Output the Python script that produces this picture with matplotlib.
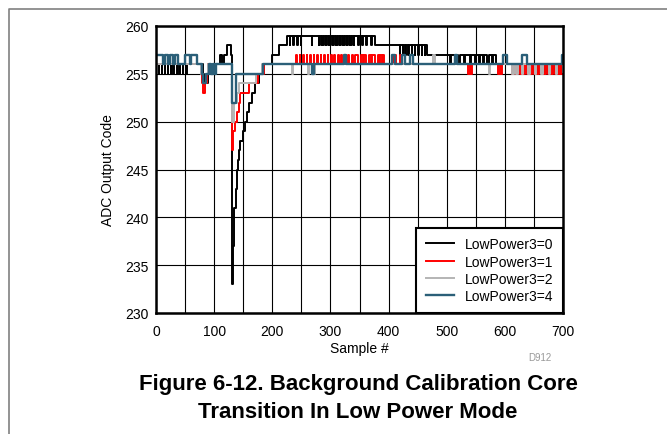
import matplotlib
matplotlib.use("Agg")
import matplotlib.pyplot as plt
from matplotlib.lines import Line2D

plt.rcParams['font.family'] = ['Liberation Sans', 'DejaVu Sans']

# ---- data: step breakpoints (sample #, ADC code held until next breakpoint) ----
lp0_x = [0, 5, 6, 10, 11, 15, 16, 20, 21, 25, 26, 30, 31, 36, 37, 41, 42, 46, 47, 52, 54,
         80, 83, 89, 91, 110, 114, 117, 122, 129,
         131, 132, 133, 134, 135, 137, 139, 141, 143, 145, 149, 153, 156, 160, 165, 170, 177, 186, 199, 212, 226,
         230, 231, 236, 237, 243, 244, 249, 250, 268, 269,
         280, 281, 284, 285, 288, 289, 292, 293, 296, 297, 300, 301, 304, 305, 308, 309, 312, 313,
         316, 317, 320, 321, 324, 325, 328, 329, 332, 333, 336, 337, 340, 341,
         348, 349, 355, 356, 362, 363, 370, 371, 377,
         419, 420, 424, 425, 429, 430, 434, 435, 440, 441, 445, 446, 451, 452, 457, 458, 462, 463, 466,
         505, 507, 520, 522, 530, 532, 540, 542, 548, 550, 555, 557, 562, 564, 570, 572, 578, 580, 584,
         648, 650, 655, 657, 662, 664, 668, 670, 675, 677, 682, 684, 689, 691, 696, 700]
lp0_y = [256, 255, 256, 255, 256, 255, 256, 255, 256, 255, 256, 255, 256, 255, 256, 255, 256, 255, 256, 255, 256,
         255, 254, 255, 256, 257, 256, 257, 258, 257,
         233, 235, 237, 239, 241, 243, 245, 246, 247, 248, 249, 250, 251, 252, 253, 254, 255, 256, 257, 258, 259,
         258, 259, 258, 259, 258, 259, 258, 259, 258, 259,
         258, 259, 258, 259, 258, 259, 258, 259, 258, 259, 258, 259, 258, 259, 258, 259, 258, 259,
         258, 259, 258, 259, 258, 259, 258, 259, 258, 259, 258, 259, 258, 259,
         258, 259, 258, 259, 258, 259, 258, 259, 258,
         257, 258, 257, 258, 257, 258, 257, 258, 257, 258, 257, 258, 257, 258, 257, 258, 257, 258, 257,
         256, 257, 256, 257, 256, 257, 256, 257, 256, 257, 256, 257, 256, 257, 256, 257, 256, 257, 256,
         255, 256, 255, 256, 255, 256, 255, 256, 255, 256, 255, 256, 255, 256, 255, 255]

lp1_x = [0, 77, 79, 81, 85, 87, 89, 130, 132, 133, 136, 140, 143, 145, 160, 176, 186,
         241, 243, 247, 248, 253, 255, 259, 260, 265, 267, 271, 272, 277, 279, 283, 284, 289, 291,
         295, 296, 301, 303, 307, 308, 313, 315, 319, 320, 325, 327, 331, 332, 337, 339,
         343, 347, 353, 356, 358, 361, 367, 370, 372, 377, 381, 384, 386, 388, 390, 392, 407, 410, 411, 413,
         419, 423,
         537, 540, 542, 544, 589, 591, 593, 595, 613, 616, 620, 622, 626, 629, 632, 634, 638, 641, 644, 646,
         650, 653, 656, 658, 662, 665, 668, 671, 674, 676, 680, 683, 686, 688, 692, 695, 697, 700]
lp1_y = [256, 255, 254, 253, 254, 255, 256, 247, 248, 249, 250, 251, 252, 253, 254, 255, 256,
         257, 256, 257, 256, 257, 256, 257, 256, 257, 256, 257, 256, 257, 256, 257, 256, 257, 256,
         257, 256, 257, 256, 257, 256, 257, 256, 257, 256, 257, 256, 257, 256, 257, 256,
         257, 256, 257, 256, 257, 256, 257, 256, 257, 256, 257, 256, 257, 256, 257, 256, 257, 256, 257, 256,
         257, 256,
         255, 256, 255, 256, 255, 256, 255, 256, 255, 256, 255, 256, 255, 256, 255, 256, 255, 256, 255, 256,
         255, 256, 255, 256, 255, 256, 255, 256, 255, 256, 255, 256, 255, 256, 255, 256, 255, 255]

lp2_x = [0, 78, 80, 86, 89, 130, 135, 139, 143, 172, 183, 234, 236, 262, 264, 269, 273, 477, 479,
         572, 574, 612, 615, 620, 622, 630, 632, 640, 643, 652, 654, 663, 665, 676, 678, 688, 690, 700]
lp2_y = [256, 255, 254, 255, 256, 250, 252, 253, 254, 255, 256, 255, 256, 255, 256, 255, 256, 257, 256,
         255, 256, 255, 256, 255, 256, 255, 256, 255, 256, 255, 256, 255, 256, 255, 256, 255, 256, 256]

lp4_x = [0, 12, 15, 21, 24, 30, 33, 38, 50, 58, 61, 70, 79, 80, 86, 92, 94, 98, 101, 104,
         130, 131, 137, 184, 269, 272, 323, 326, 406, 411, 423, 429, 437, 442, 515, 518,
         597, 604, 630, 638, 698, 700]
lp4_y = [257, 256, 257, 256, 257, 256, 257, 256, 257, 256, 257, 256, 255, 254, 255, 256, 255, 256, 255, 256,
         253, 252, 255, 256, 255, 256, 257, 256, 257, 256, 257, 256, 257, 256, 257, 256,
         257, 256, 257, 256, 257, 257]

series_labels = ['LowPower3=0', 'LowPower3=1', 'LowPower3=2', 'LowPower3=4']
series_colors = ['#000000', '#ff0000', '#b4b4b4', '#2b5f78']
series_widths = [1.4, 1.4, 1.4, 1.7]
x_ticks = [0, 100, 200, 300, 400, 500, 600, 700]
y_ticks = [230, 235, 240, 245, 250, 255, 260]

W, H = 667, 435
fig = plt.figure(figsize=(W / 100, H / 100), dpi=100)
ax = fig.add_axes([156 / W, 1 - 314 / H, (563 - 156) / W, (314 - 27) / H])

for xs, ys, lab, col, lw in zip([lp0_x, lp1_x, lp2_x, lp4_x], [lp0_y, lp1_y, lp2_y, lp4_y],
                                series_labels, series_colors, series_widths):
    ax.step(xs, ys, where='post', color=col, lw=lw, label=lab, zorder=3)

ax.set_xlim(0, 700)
ax.set_ylim(230, 260)
ax.set_xticks(x_ticks)
ax.set_yticks(y_ticks)
ax.set_xticks(range(0, 701, 50), minor=True)
ax.grid(True, which='both', color='black', lw=0.8, zorder=1)
ax.tick_params(which='both', length=0, labelsize=10)
ax.tick_params(axis='x', pad=8)
ax.tick_params(axis='y', pad=5)
for s in ax.spines.values():
    s.set_linewidth(1.8)
    s.set_zorder(4)
ax.set_xlabel('Sample #', fontsize=10, labelpad=2)
ax.set_ylabel('ADC Output Code', fontsize=10, labelpad=8)

leg = ax.legend(loc='lower right', fontsize=10, frameon=True, fancybox=False,
                edgecolor='black', borderaxespad=0, handlelength=2.0, labelspacing=0.24,
                borderpad=0.7, handletextpad=0.8)
leg.get_frame().set_linewidth(1.5)
leg.get_frame().set_alpha(1)
leg.set_zorder(5)

fig.text(540 / W, 1 - 358 / H, 'D912', fontsize=7, color='#999999', ha='center', va='center')
fig.text(358 / W, 1 - 385 / H, 'Figure 6-12. Background Calibration Core', fontsize=16,
         fontweight='bold', ha='center', va='center')
fig.text(358 / W, 1 - 413 / H, 'Transition In Low Power Mode', fontsize=16,
         fontweight='bold', ha='center', va='center')

fig.add_artist(Line2D([9 / W, 9 / W, 1.0], [0.0, 1 - 10 / H, 1 - 10 / H],
                      transform=fig.transFigure, color='#808080', lw=1.2))

fig.savefig('out.png', dpi=100)
